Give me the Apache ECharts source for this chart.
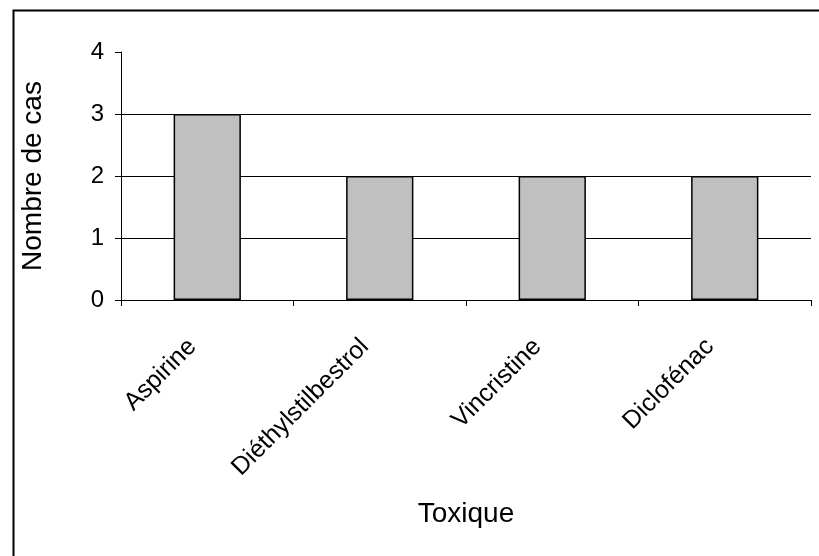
<!DOCTYPE html>
<html>
<head>
<meta charset="utf-8">
<script src="https://cdn.jsdelivr.net/npm/echarts@6/dist/echarts.min.js"></script>
<style>
  html, body { margin: 0; padding: 0; background: #fff; }
  #chart { width: 819px; height: 556px; }
</style>
</head>
<body>
<div id="chart"></div>
<script>
// Cas par toxique - barres verticales
const categories = ["Aspirine", "Diéthylstilbestrol", "Vincristine", "Diclofénac"];
const valeurs = [3, 2, 2, 2];
const yTicks = [0, 1, 2, 3, 4];

const chart = echarts.init(document.getElementById("chart"));

const option = {
  animation: false,
  backgroundColor: "#fff",
  textStyle: { fontFamily: "Liberation Sans, Arial, sans-serif", color: "#000" },
  grid: { left: 121, right: 8, top: 52, bottom: 256 },
  // cadre autour du graphique (coupé à droite et en bas)
  graphic: [
    {
      type: "rect",
      left: 11, top: 8,
      shape: { width: 900, height: 700 },
      style: { fill: "none", stroke: "#000", lineWidth: 2 },
      silent: true,
    },
  ],
  xAxis: {
    type: "category",
    data: categories,
    name: "Toxique",
    nameLocation: "middle",
    nameGap: 200,
    nameTextStyle: { fontSize: 28, color: "#000" },
    axisLine: { lineStyle: { color: "#000", width: 1 } },
    axisTick: { show: true, length: 6, alignWithLabel: false, lineStyle: { color: "#000" } },
    axisLabel: { rotate: 45, fontSize: 25, color: "#000", margin: 28, padding: [0, 21, 0, 0], interval: 0 },
    splitLine: { show: false },
  },
  yAxis: {
    type: "value",
    min: yTicks[0],
    max: yTicks[yTicks.length - 1],
    interval: 1,
    name: "Nombre de cas",
    nameLocation: "middle",
    nameGap: 74,
    nameTextStyle: { fontSize: 28, color: "#000" },
    axisLine: { show: true, lineStyle: { color: "#000", width: 1 } },
    axisTick: { show: true, length: 6, lineStyle: { color: "#000" } },
    axisLabel: { fontSize: 24, color: "#000", margin: 17 },
    splitLine: {
      show: true,
      // pas de ligne de quadrillage en haut (valeur 4)
      lineStyle: { color: ["#000", "#000", "#000", "#000", "rgba(0,0,0,0)"], width: 1 },
    },
  },
  series: [
    {
      type: "bar",
      data: valeurs,
      barWidth: "39%",
      itemStyle: { color: "#C0C0C0", borderColor: "#000", borderWidth: 1.5 },
    },
  ],
};

chart.setOption(option);
</script>
</body>
</html>
